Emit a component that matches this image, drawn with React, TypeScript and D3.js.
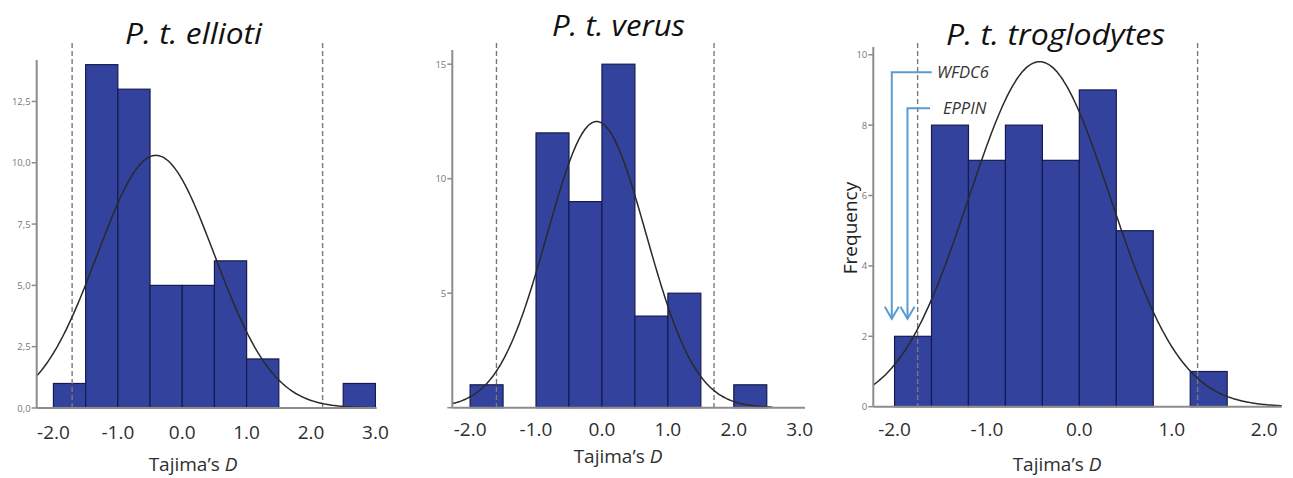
import React from "react";
import * as d3 from "d3";

// ---------- data ----------
const elliotiBinStarts = [-2.0, -1.5, -1.0, -0.5, 0.0, 0.5, 1.0, 2.5];
const elliotiCounts = [1, 14, 13, 5, 5, 6, 2, 1];
const verusBinStarts = [-2.0, -1.0, -0.5, 0.0, 0.5, 1.0, 2.0];
const verusCounts = [1, 12, 9, 15, 4, 5, 1];
const troglodytesBinStarts = [-2.0, -1.6, -1.2, -0.8, -0.4, 0.0, 0.4, 1.2];
const troglodytesCounts = [2, 8, 7, 8, 7, 9, 5, 1];
const binWidths = [0.5, 0.5, 0.4];
const fitMeans = [-0.41, -0.08, -0.43];
const fitSDs = [0.91, 0.75, 0.765];
const cutoffLow = [-1.71, -1.6, -1.75];
const cutoffHigh = [2.18, 1.7, 1.28];
const titles = ["P. t. ellioti", "P. t. verus", "P. t. troglodytes"];
const xTickValues = [
  [-2, -1, 0, 1, 2, 3],
  [-2, -1, 0, 1, 2, 3],
  [-2, -1, 0, 1, 2],
];
const yTickValues = [
  [0, 2.5, 5, 7.5, 10, 12.5],
  [0, 5, 10, 15],
  [0, 2, 4, 6, 8, 10],
];
const yTickLabels = [
  ["0,0", "2,5", "5,0", "7,5", "10,0", "12,5"],
  ["", "5", "10", "15"],
  ["0", "2", "4", "6", "8", "10"],
];
const xLabelText = "Tajima’s ";
const xLabelItalic = "D";
const yLabelText = "Frequency";
const geneNames = ["WFDC6", "EPPIN"];
const geneArrowX = [-2.03, -1.86];
const geneLineY = [9.5, 8.48];
const geneArrowTipY = 2.5;

// ---------- layout (styling only) ----------
const layouts = [
  { xDomain: [-2.26, 3.02], xRange: [36.7, 376.7], yDomain: [0, 14.19], yRange: [408, 60], curve: [-2.26, 3.0], titleX: 193.5, titleY: 43.5, titleLen: 137, tickY: 439, labelX: 193, labelY: 471 },
  { xDomain: [-2.27, 3.08], xRange: [452.3, 805], yDomain: [0, 15.62], yRange: [407.7, 50], curve: [-2.27, 2.6], titleX: 618.5, titleY: 36, titleLen: 133, tickY: 436, labelX: 618, labelY: 463 },
  { xDomain: [-2.23, 2.19], xRange: [873.3, 1281.7], yDomain: [0, 10.22], yRange: [406.7, 47], curve: [-2.23, 2.19], titleX: 1055.5, titleY: 45, titleLen: 219, tickY: 436, labelX: 1057, labelY: 471 },
];

const binStarts = [elliotiBinStarts, verusBinStarts, troglodytesBinStarts];
const counts = [elliotiCounts, verusCounts, troglodytesCounts];

const BAR_FILL = "#33429c";
const BAR_STROKE = "#161b4f";
const AXIS = "#8c8c8c";
const BLUE = "#5b9bd5";
const FONT = "'Open Sans', 'DejaVu Sans', sans-serif";

const fmtTick = (t: number) => t.toFixed(1);

function Panel({ i }: { i: number }) {
  const L = layouts[i];
  const x = d3.scaleLinear().domain(L.xDomain).range(L.xRange);
  const y = d3.scaleLinear().domain(L.yDomain).range(L.yRange);
  const n = d3.sum(counts[i]);
  const w = binWidths[i];
  const mu = fitMeans[i];
  const sd = fitSDs[i];
  const curveXs = d3.range(L.curve[0], L.curve[1] + 0.001, 0.02);
  const line = d3
    .line<number>()
    .x((d) => x(d))
    .y((d) => y((n * w * Math.exp(-0.5 * ((d - mu) / sd) ** 2)) / (sd * Math.sqrt(2 * Math.PI))))
    .curve(d3.curveBasis);
  const y0 = y(0);
  const x0 = L.xRange[0];
  const dashTop = 43;
  return (
    <g>
      <text
        x={L.titleX}
        y={L.titleY}
        textAnchor="middle"
        fontFamily={FONT}
        fontStyle="italic"
        fontWeight={500}
        fontSize={30}
        fill="#111"
        textLength={L.titleLen}
        lengthAdjust="spacingAndGlyphs"
      >
        {titles[i]}
      </text>
      {binStarts[i].map((b, k) => (
        <rect
          key={k}
          x={x(b)}
          y={y(counts[i][k])}
          width={x(b + w) - x(b)}
          height={y0 - y(counts[i][k])}
          fill={BAR_FILL}
          stroke={BAR_STROKE}
          strokeWidth={1.2}
        />
      ))}
      {[cutoffLow[i], cutoffHigh[i]].map((c, k) => (
        <line
          key={k}
          x1={x(c)}
          x2={x(c)}
          y1={dashTop}
          y2={y0}
          stroke="#7a7a7a"
          strokeWidth={1.4}
          strokeDasharray="5,3"
        />
      ))}
      <path d={line(curveXs) || ""} fill="none" stroke="#2a2a2a" strokeWidth={1.5} />
      <line x1={x0} x2={x0} y1={L.yRange[1]} y2={y0} stroke={AXIS} strokeWidth={2} />
      <line x1={x0} x2={L.xRange[1]} y1={y0} y2={y0} stroke={AXIS} strokeWidth={2} />
      {yTickValues[i].map((t, k) => (
        <g key={k}>
          <line x1={x0 - 5} x2={x0} y1={y(t)} y2={y(t)} stroke={AXIS} strokeWidth={1.5} />
          <text
            x={x0 - 6}
            y={y(t) + 3.5}
            textAnchor="end"
            fontFamily={FONT}
            fontSize={9.5}
            fill="#777"
          >
            {yTickLabels[i][k]}
          </text>
        </g>
      ))}
      {xTickValues[i].map((t, k) => (
        <text
          key={k}
          x={x(t)}
          y={L.tickY}
          textAnchor="middle"
          fontFamily={FONT}
          fontSize={19}
          fontWeight={500}
          fill="#2e2e2e"
        >
          {fmtTick(t)}
        </text>
      ))}
      <text x={L.labelX} y={L.labelY} textAnchor="middle" fontFamily={FONT} fontSize={19} fill="#2e2e2e">
        {xLabelText}
        <tspan fontStyle="italic">{xLabelItalic}</tspan>
      </text>
    </g>
  );
}

function GeneArrows() {
  const L = layouts[2];
  const x = d3.scaleLinear().domain(L.xDomain).range(L.xRange);
  const y = d3.scaleLinear().domain(L.yDomain).range(L.yRange);
  const horizEnd = [931.7, 930];
  const textX = [937, 943];
  return (
    <g>
      {geneNames.map((g, k) => {
        const ax = x(geneArrowX[k]);
        const ly = y(geneLineY[k]);
        const tip = y(geneArrowTipY);
        return (
          <g key={k}>
            <path d={`M${horizEnd[k]},${ly} H${ax} V${tip}`} fill="none" stroke={BLUE} strokeWidth={2} />
            <path
              d={`M${ax - 7},${tip - 12} L${ax},${tip} L${ax + 7},${tip - 12}`}
              fill="none"
              stroke={BLUE}
              strokeWidth={2}
            />
            <text x={textX[k]} y={ly + 6} fontFamily={FONT} fontStyle="italic" fontSize={16.5} fill="#333">
              {g}
            </text>
          </g>
        );
      })}
      <text
        transform={`translate(${857},${228}) rotate(-90)`}
        textAnchor="middle"
        fontFamily={FONT}
        fontSize={19}
        fill="#222"
      >
        {yLabelText}
      </text>
    </g>
  );
}

export default function App() {
  return (
    <svg width={1293} height={478} style={{ position: "absolute", left: 0, top: 0, background: "#fff" }}>
      <rect width={1293} height={478} fill="#fff" />
      {[0, 1, 2].map((i) => (
        <Panel key={i} i={i} />
      ))}
      <GeneArrows />
    </svg>
  );
}
